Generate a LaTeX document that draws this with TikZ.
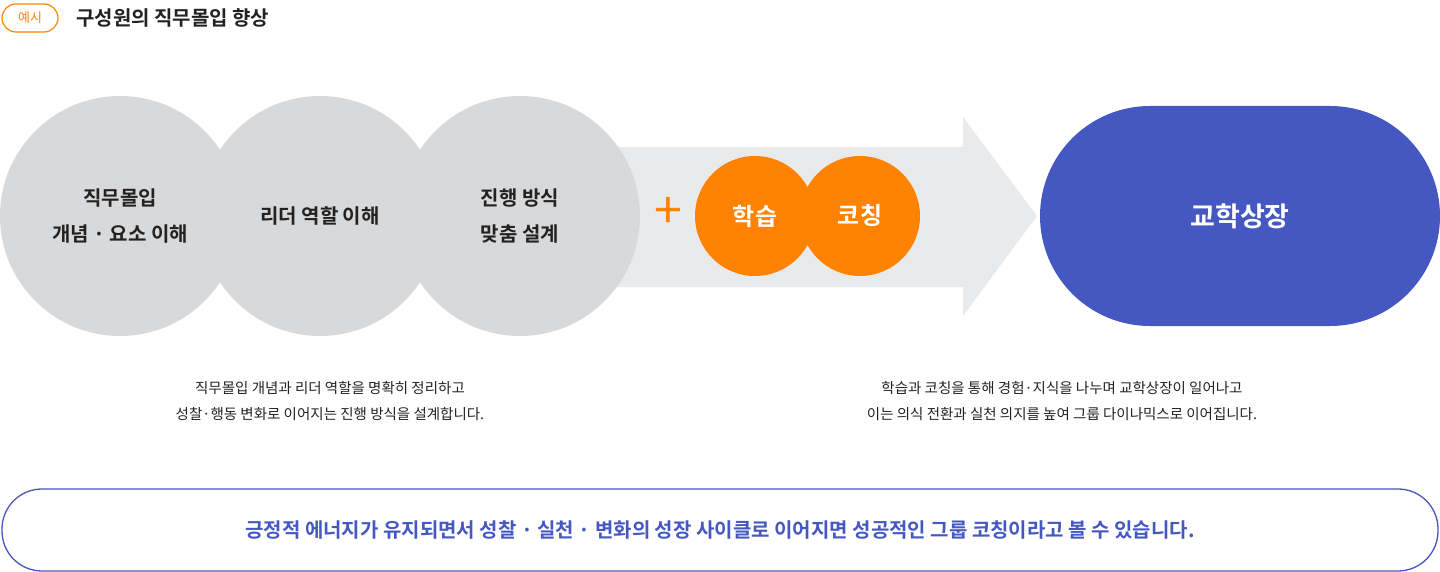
\documentclass[tikz,border=0pt]{standalone}
\usepackage{fontspec}
\setmainfont{Noto Sans CJK KR}
\newfontfamily\kb{Noto Sans CJK KR Bold}
\definecolor{cgrey}{HTML}{D8D9DB}
\definecolor{agrey}{HTML}{E9EAEC}
\definecolor{corange}{HTML}{FF8200}
\definecolor{cblue}{HTML}{4557C0}
\definecolor{ctext}{HTML}{222222}
\begin{document}
\begin{tikzpicture}[x=1pt,y=-1pt,
  gc/.style={circle,fill=cgrey,minimum size=240pt,inner sep=0pt,align=center,text=ctext,font=\kb\fontsize{20}{30}\selectfont},
  oc/.style={circle,fill=corange,minimum size=120pt,inner sep=0pt,text=white,font=\kb\fontsize{24}{28}\selectfont},
  captext/.style={align=center,text=ctext,font=\fontsize{14.5}{26}\selectfont}]
\useasboundingbox (0,0) rectangle (1440,572);
\node[draw=corange,line width=1.2pt,rounded corners=14pt,minimum width=56pt,minimum height=28pt,inner sep=0pt,text=corange,font=\fontsize{13}{15}\selectfont] (tag) at (30,18) {예시};
\node[anchor=west,text=ctext,font=\kb\fontsize{20}{24}\selectfont,inner sep=0pt] (title) at (76,18) {구성원의 직무몰입 향상};
\fill[agrey] (600,147) -- (963,147) -- (963,117) -- (1037,216) -- (963,316) -- (963,287) -- (600,287) -- cycle;
\node[gc] (c1) at (120,216) {};
\node[gc] (c2) at (320,216) {};
\node[gc] (c3) at (520,216) {};
\node[align=center,text=ctext,font=\kb\fontsize{20}{36}\selectfont] (t1) at (120,216) {직무몰입\\개념 · 요소 이해};
\node[align=center,text=ctext,font=\kb\fontsize{20}{36}\selectfont] (t2) at (320,216) {리더 역할 이해};
\node[align=center,text=ctext,font=\kb\fontsize{20}{36}\selectfont] (t3) at (520,216) {진행 방식\\맞춤 설계};
\node[text=corange,font=\fontsize{50}{50}\selectfont,inner sep=0pt] (plus) at (668,213) {+};
\node[oc] (o1) at (755,216) {};
\node[oc] (o2) at (860,216) {};
\node[text=white,font=\kb\fontsize{24}{28}\selectfont] at (o1) {학습};
\node[text=white,font=\kb\fontsize{24}{28}\selectfont] at (o2) {코칭};
\node[fill=cblue,rounded corners=110pt,minimum width=400pt,minimum height=220pt,inner sep=0pt,text=white,font=\kb\fontsize{27}{30}\selectfont] (res) at (1240,216) {교학상장};
\node[captext] (cap1) at (330,401) {직무몰입 개념과 리더 역할을 명확히 정리하고\\성찰·행동 변화로 이어지는 진행 방식을 설계합니다.};
\node[captext] (cap2) at (1062,401) {학습과 코칭을 통해 경험·지식을 나누며 교학상장이 일어나고\\이는 의식 전환과 실천 의지를 높여 그룹 다이나믹스로 이어집니다.};
\node[draw=cblue,line width=1.3pt,rounded corners=40pt,minimum width=1436pt,minimum height=82pt,inner sep=0pt,text=cblue,font=\kb\fontsize{20}{24}\selectfont] (box) at (720,530) {긍정적 에너지가 유지되면서 성찰 · 실천 · 변화의 성장 사이클로 이어지면 성공적인 그룹 코칭이라고 볼 수 있습니다.};
\end{tikzpicture}
\end{document}
